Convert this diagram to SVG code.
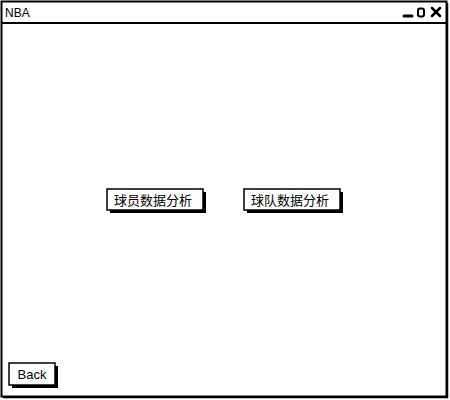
<svg xmlns="http://www.w3.org/2000/svg" width="450" height="400" viewBox="0 0 450 400">
<style>
.frame{fill:#fff;stroke:#000;stroke-width:2}
.shadow{fill:#000}
.btn{fill:#fff;stroke:#000;stroke-width:1.5}
.t{font-family:"Noto Sans CJK SC","Liberation Sans",sans-serif;font-size:13px;fill:#000}
.lt{font-family:"Liberation Sans",sans-serif;font-size:12px;fill:#000}
</style>
<rect width="450" height="400" fill="#fff"/>
<g id="window">
<rect class="frame" x="1.5" y="1.5" width="445" height="395"/>
<line x1="447.5" y1="3" x2="447.5" y2="398" stroke="#000" stroke-width="1.5"/>
<line x1="3" y1="397.5" x2="448" y2="397.5" stroke="#000" stroke-width="1.5"/>
<line x1="1.5" y1="23" x2="446.5" y2="23" stroke="#000" stroke-width="2"/>
<text class="lt" x="5" y="17">NBA</text>
<g id="window-controls" stroke="#000" fill="none" stroke-width="2.5" stroke-linecap="round">
<line x1="404" y1="16" x2="412" y2="16" stroke-width="3"/>
<rect x="418" y="8.5" width="6" height="8" rx="2" stroke-width="2"/>
<line x1="432" y1="8" x2="440" y2="16"/>
<line x1="440" y1="8" x2="432" y2="16"/>
</g>
</g>
<g id="btn-player">
<rect class="shadow" x="110" y="192" width="96" height="21"/>
<rect class="btn" x="107" y="189" width="96" height="21"/>
<text class="t" x="153" y="204.5" text-anchor="middle">球员数据分析</text>
</g>
<g id="btn-team">
<rect class="shadow" x="247" y="192" width="96" height="21"/>
<rect class="btn" x="244" y="189" width="96" height="21"/>
<text class="t" x="290" y="204.5" text-anchor="middle">球队数据分析</text>
</g>
<g id="btn-back">
<rect class="shadow" x="12" y="366" width="46" height="22"/>
<rect class="btn" x="9" y="363" width="46" height="22"/>
<text class="lt" x="32" y="379" text-anchor="middle" style="font-size:13px">Back</text>
</g>
<g id="connectors"></g>
</svg>
